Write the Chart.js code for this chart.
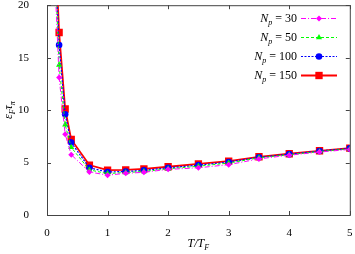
<!DOCTYPE html>
<html>
<head>
<meta charset="utf-8">
<script src="https://cdn.jsdelivr.net/npm/chart.js@4"></script>
<style>
    html, body { margin: 0; padding: 0; background: #fff; }
    #wrap { width: 355px; height: 254px; }
</style>
</head>
<body>
<div id="wrap"><canvas id="tauChart"></canvas></div>
<script>
// data
const tOverTF = [0.1, 0.2, 0.3, 0.4, 0.7, 1.0, 1.3, 1.6, 2.0, 2.5, 3.0, 3.5, 4.0, 4.5, 5.0];
const np30  = [26.5, 13.1, 7.7, 5.75, 4.1, 3.8, 3.97, 4.07, 4.35, 4.5, 4.8, 5.35, 5.7, 6.0, 6.25];
const np50  = [28.0, 14.3, 8.6, 6.45, 4.3, 3.95, 4.05, 4.15, 4.4, 4.65, 4.95, 5.45, 5.75, 6.05, 6.3];
const np100 = [29.5, 16.2, 9.6, 6.9, 4.5, 4.1, 4.15, 4.25, 4.5, 4.75, 5.05, 5.5, 5.8, 6.1, 6.35];
const np150 = [30.5, 17.4, 10.1, 7.2, 4.76, 4.28, 4.3, 4.4, 4.6, 4.88, 5.14, 5.55, 5.84, 6.12, 6.38];
const seriesNames = ['30', '50', '100', '150'];
const xTicks = [0, 1, 2, 3, 4, 5];
const yTicks = [0, 5, 10, 15, 20];

const serif = "'Liberation Serif', 'DejaVu Serif', serif";

function pts(ys) {
    return tOverTF.map((x, i) => ({ x: x, y: ys[i] }));
}

const styles = [
    { color: '#ff00ff', dash: [5, 2, 1, 2], point: 'rectRot', r: 3, w: 1 },
    { color: '#00ff00', dash: [3, 2], point: 'triangle', r: 3.5, w: 1 },
    { color: '#0000ff', dash: [2, 1.5], point: 'circle', r: 3.3, w: 1.2 },
    { color: '#ff0000', dash: [], point: 'rect', r: 5.2, w: 1.8 }
];

const allSeries = [np30, np50, np100, np150];
const datasets = allSeries.map((ys, i) => ({
    label: 'N_p = ' + seriesNames[i],
    data: pts(ys),
    borderColor: styles[i].color,
    backgroundColor: styles[i].color,
    borderWidth: styles[i].w,
    borderDash: styles[i].dash,
    pointStyle: styles[i].point,
    pointRadius: styles[i].r,
    pointBorderWidth: 0,
    tension: 0
}));

// draw text pieces with subscripts, returns width
function subText(ctx, parts, x, y, measureOnly) {
    let w = 0;
    parts.forEach(p => {
        const size = p.sub ? 8 : 12;
        ctx.font = (p.it ? 'italic ' : '') + size + 'px ' + serif;
        if (!measureOnly) ctx.fillText(p.t, x + w, y + (p.sub ? 3 : 0));
        w += ctx.measureText(p.t).width;
    });
    return w;
}

// gnuplot style frame, inward ticks, legend and axis titles
const gnuFrame = {
    id: 'gnuFrame',
    beforeDatasetsDraw(chart) {
        const { ctx, chartArea: a, scales } = chart;
        ctx.save();
        ctx.strokeStyle = '#444';
        ctx.lineWidth = 1;
        ctx.strokeRect(a.left + 0.5, a.top + 0.5, a.right - a.left, a.bottom - a.top);
        ctx.beginPath();
        xTicks.forEach(v => {
            const px = Math.round(scales.x.getPixelForValue(v)) + 0.5;
            ctx.moveTo(px, a.bottom); ctx.lineTo(px, a.bottom - 4);
            ctx.moveTo(px, a.top); ctx.lineTo(px, a.top + 4);
        });
        yTicks.forEach(v => {
            const py = Math.round(scales.y.getPixelForValue(v)) + 0.5;
            ctx.moveTo(a.left, py); ctx.lineTo(a.left + 4, py);
            ctx.moveTo(a.right, py); ctx.lineTo(a.right - 4, py);
        });
        ctx.stroke();
        ctx.restore();
    },
    afterDraw(chart) {
        const { ctx, chartArea: a } = chart;
        ctx.save();
        ctx.fillStyle = '#000';
        ctx.textBaseline = 'alphabetic';
        ctx.textAlign = 'left';

        // legend
        chart.data.datasets.forEach((ds, i) => {
            const y = 18 + i * 19;
            const parts = [
                { t: 'N', it: true },
                { t: 'p', it: true, sub: true },
                { t: ' = ' + seriesNames[i] }
            ];
            const w = subText(ctx, parts, 0, 0, true);
            subText(ctx, parts, 297 - w, y + 4, false);
            ctx.save();
            ctx.strokeStyle = ds.borderColor;
            ctx.lineWidth = ds.borderWidth;
            ctx.setLineDash(ds.borderDash);
            ctx.beginPath();
            ctx.moveTo(301, y + 0.5);
            ctx.lineTo(337, y + 0.5);
            ctx.stroke();
            ctx.setLineDash([]);
            ctx.fillStyle = ds.backgroundColor;
            Chart.helpers.drawPoint(ctx, {
                pointStyle: ds.pointStyle, radius: ds.pointRadius, rotation: 0, borderWidth: 0
            }, 319, y + 0.5);
            ctx.restore();
        });

        // x title
        const xt = [{ t: 'T/T', it: true }, { t: 'F', it: true, sub: true }];
        const xw = subText(ctx, xt, 0, 0, true);
        subText(ctx, xt, (a.left + a.right) / 2 - xw / 2, 247, false);

        // y title
        const yt = [
            { t: '\u03b5', it: true }, { t: 'F', it: true, sub: true },
            { t: '\u03c4', it: true }, { t: '\u03c0', it: true, sub: true }
        ];
        ctx.translate(12, (a.top + a.bottom) / 2);
        ctx.rotate(-Math.PI / 2);
        const yw = subText(ctx, yt, 0, 0, true);
        subText(ctx, yt, -yw / 2, 0, false);
        ctx.restore();
    }
};

const ctx = document.getElementById('tauChart').getContext('2d');
const tauChart = new Chart(ctx, {
    type: 'line',
    data: { datasets: datasets },
    options: {
        responsive: true,
        maintainAspectRatio: false,
        animation: false,
        layout: { padding: { top: 5, right: 5, left: 0, bottom: 0 } },
        plugins: {
            legend: { display: false },
            tooltip: { enabled: false }
        },
        scales: {
            x: {
                type: 'linear',
                min: 0, max: 5,
                grid: { display: false },
                border: { display: false },
                afterBuildTicks: s => { s.ticks = xTicks.map(v => ({ value: v })); },
                afterFit: s => { s.height = 39; s.paddingLeft = 0; s.paddingRight = 0; },
                ticks: {
                    color: '#000',
                    padding: 4,
                    maxRotation: 0,
                    font: { family: serif, size: 11 }
                }
            },
            y: {
                min: 0, max: 20,
                grid: { display: false },
                border: { display: false },
                afterBuildTicks: s => { s.ticks = yTicks.map(v => ({ value: v })); },
                afterFit: s => { s.width = 47; s.paddingTop = 0; s.paddingBottom = 0; },
                ticks: {
                    color: '#000',
                    padding: 10,
                    font: { family: serif, size: 11 }
                }
            }
        }
    },
    plugins: [gnuFrame]
});
</script>
</body>
</html>
